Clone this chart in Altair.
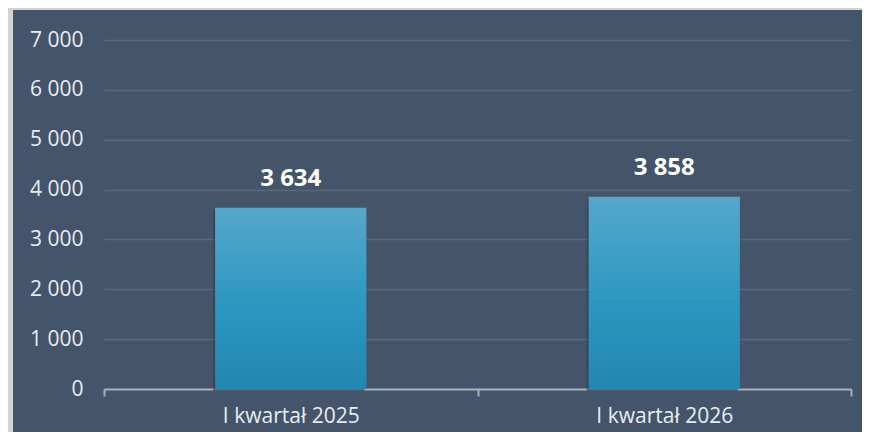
import altair as alt
import pandas as pd

categories = ["I kwartał 2025", "I kwartał 2026"]
values = [3634, 3858]
labels = ["3 634", "3 858"]
y_ticks = [0, 1000, 2000, 3000, 4000, 5000, 6000, 7000]

df = pd.DataFrame({"kat": categories, "val": values, "lab": labels})

BG = "#44546a"
GRAY = "#d3d3d3"
FONT = "Open Sans"

W, H = 747, 349

x_enc = alt.X("kat:N", sort=categories, title=None,
              scale=alt.Scale(paddingInner=0, paddingOuter=0),
              axis=alt.Axis(labelAngle=0, labelFontSize=21, labelColor="#e8edf3",
                            labelFont=FONT, labelPadding=9, tickBand="extent",
                            domainColor="#a9b0b8", domainWidth=2, tickColor="#a9b0b8",
                            tickWidth=2, tickSize=7, grid=False))
y_enc = alt.Y("val:Q", title=None,
              scale=alt.Scale(domain=[0, 7000], nice=False),
              axis=alt.Axis(values=y_ticks, labelExpr="replace(format(datum.value, ',d'), ',', ' ')",
                            labelFontSize=21, labelColor="#e8edf3", labelFont=FONT,
                            labelPadding=21, domain=False, ticks=False,
                            gridColor="#58687d", gridWidth=1.5))

# light-gray frame strips (left and top) outside the dark panel
left_strip = alt.Chart(df).mark_rect(color=GRAY).encode(
    x=alt.value(-100), x2=alt.value(-91), y=alt.value(-40), y2=alt.value(H + 60)
)
top_strip = alt.Chart(df).mark_rect(color=GRAY).encode(
    x=alt.value(-100), x2=alt.value(W + 40), y=alt.value(-40), y2=alt.value(-30)
)

base = alt.Chart(df).encode(x=x_enc, y=y_enc)

shadow = base.mark_bar(width=alt.RelativeBandSize(0.405), color="#2c3a4c", opacity=0.55,
                       xOffset=-2, yOffset=2)

bars = base.mark_bar(
    width=alt.RelativeBandSize(0.405),
    color=alt.Gradient(gradient="linear", x1=0, y1=0, x2=0, y2=1,
                       stops=[alt.GradientStop(color="#56a7cb", offset=0),
                              alt.GradientStop(color="#2b97c0", offset=0.55),
                              alt.GradientStop(color="#2287b1", offset=1)])
)

text = base.mark_text(baseline="bottom", dy=-17, fontSize=24, fontWeight="bold",
                      color="white", font=FONT).encode(text="lab:N")

chart = alt.layer(left_strip, top_strip, shadow, bars, text).properties(
    width=W, height=H,
    autosize=alt.AutoSizeParams(type="none"),
    padding={"left": 96, "top": 32, "right": 11, "bottom": 43},
    background=BG,
).configure_view(stroke=None)

chart.save("out.html", embed_options={"renderer": "svg", "actions": False})
